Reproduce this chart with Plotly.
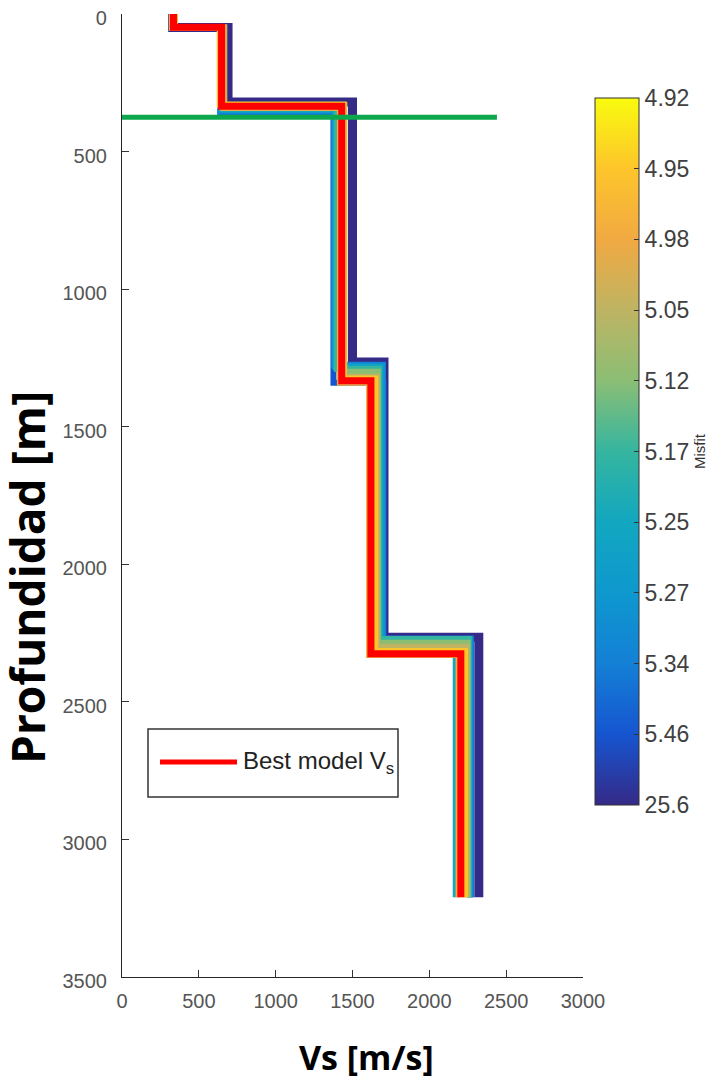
import plotly.graph_objects as go

# ---------------- data ----------------
misfit_labels = ["4.92", "4.95", "4.98", "5.05", "5.12", "5.17", "5.25", "5.27", "5.34", "5.46", "25.6"]

# velocity of each of the 5 layers, per model (rank 0 = best model)
vs_models = [
    [335, 648, 1430, 1620, 2205],   # 4.92 best
    [345, 636, 1442, 1648, 2232],   # 4.95
    [325, 660, 1418, 1608, 2190],   # 4.98
    [340, 666, 1447, 1660, 2242],   # 5.05
    [330, 655, 1440, 1665, 2250],   # 5.12
    [330, 650, 1400, 1672, 2256],   # 5.17
    [330, 650, 1392, 1680, 2172],   # 5.25
    [330, 645, 1386, 1690, 2262],   # 5.27
    [330, 640, 1380, 1698, 2270],   # 5.34
    [330, 640, 1376, 1702, 2272],   # 5.46
    [330, 690, 1500, 1705, 2322],   # 25.6
]
# interface depths (m) below layers 1-4, per model
interfaces_models = [
    [48, 335, 1333, 2325],
    [48, 330, 1325, 2315],
    [50, 342, 1340, 2330],
    [48, 330, 1318, 2300],
    [48, 330, 1300, 2285],
    [48, 340, 1290, 2272],
    [48, 345, 1285, 2280],
    [48, 350, 1280, 2275],
    [48, 355, 1275, 2270],
    [48, 358, 1340, 2280],
    [49, 320, 1265, 2265],
]
bottom_depth = 3210

green_vs = [0, 2440]
green_depth = [375, 375]

x_ticks = [0, 500, 1000, 1500, 2000, 2500, 3000]
y_ticks = [0, 500, 1000, 1500, 2000, 2500, 3000, 3500]

# parula-like colours at each colourbar tick (bottom -> top)
cb_colors = ["#352A87", "#1655D0", "#1480D6", "#0E98CE", "#12A7C0", "#35B59F",
             "#8BBE75", "#BEB463", "#F1A942", "#FDC52B", "#F9FB0E"]

# ---------------- figure ----------------
n = len(vs_models)
colorscale = [[i / (n - 1), c] for i, c in enumerate(cb_colors)]

fig = go.Figure()

def profile(vs, itf):
    xs, ys = [], []
    tops = [0] + itf
    bots = itf + [bottom_depth]
    for v, t, b in zip(vs, tops, bots):
        xs += [v, v]
        ys += [t, b]
    return xs, ys

# draw worst first, best last
for rank in range(n - 1, -1, -1):
    xs, ys = profile(vs_models[rank], interfaces_models[rank])
    pos = (n - 1 - rank)
    col = "#FF0000" if rank == 0 else cb_colors[pos]
    width = 7 if rank == 0 else (9 if rank == n - 1 else 6)
    fig.add_trace(go.Scatter(
        x=xs, y=ys, mode="lines",
        line=dict(color=col, width=width),
        showlegend=False, hoverinfo="skip",
        name="Best model Vs" if rank == 0 else "Misfit " + misfit_labels[rank],
    ))

fig.add_trace(go.Scatter(x=green_vs, y=green_depth, mode="lines",
                         line=dict(color="#0DA84E", width=5),
                         showlegend=False, hoverinfo="skip"))

# colourbar carrier
fig.add_trace(go.Scatter(
    x=[None], y=[None], mode="markers", showlegend=False,
    marker=dict(color=[0], colorscale=colorscale, cmin=0, cmax=n - 1, showscale=True,
                colorbar=dict(
                    x=(595 - 122) / 461, xanchor="left", xpad=0,
                    y=1 - (451.5 - 14) / 963, yanchor="middle", ypad=0,
                    len=707 / 963, lenmode="fraction", thickness=44,
                    outlinecolor="#333333", outlinewidth=1,
                    tickvals=list(range(n)), ticktext=misfit_labels[::-1],
                    ticks="inside", ticklen=5, tickcolor="#333333",
                    tickfont=dict(family="Liberation Sans, Arial", size=23, color="#404040"),
                    title=dict(text="Misfit", side="right",
                               font=dict(family="Liberation Sans, Arial", size=15, color="#333333")),
                )),
))

axis_font = dict(family="Liberation Sans, Arial", size=20, color="#555555")
fig.update_xaxes(range=[0, 3000], tickvals=x_ticks, ticks="inside", ticklen=7,
                 tickcolor="#333333", showline=True, linecolor="#262626", linewidth=1.2,
                 showgrid=False, zeroline=False, tickfont=axis_font, ticklabelstandoff=6,
                 automargin=False, ticklabeloverflow="allow")
fig.update_yaxes(range=[3500, 0], tickvals=y_ticks, ticks="inside", ticklen=7,
                 tickcolor="#333333", showline=True, linecolor="#262626", linewidth=1.2,
                 showgrid=False, zeroline=False, tickfont=axis_font, ticklabelstandoff=10,
                 ticklabelshift=-4,
                 automargin=False, ticklabeloverflow="allow")

# the page body adds an 8 px offset; positions below are in screen pixels
W, H, L, T = 461, 963, 122, 14
px = lambda x: (x - L) / W
py = lambda y: 1 - (y - T) / H

# legend box (drawn manually to match the reference layout)
fig.add_shape(type="rect", xref="paper", yref="paper", x0=px(148), x1=px(398), y0=py(797), y1=py(729),
              line=dict(color="#333333", width=1.5), fillcolor="white", layer="above")
fig.add_shape(type="line", xref="paper", yref="paper", x0=px(160), x1=px(237), y0=py(762), y1=py(762),
              line=dict(color="#FF0000", width=5), layer="above")
fig.add_annotation(xref="paper", yref="paper", x=px(241), y=py(762), xanchor="left", yanchor="middle",
                   text="Best model V<sub>s</sub>", showarrow=False,
                   font=dict(family="Liberation Sans, Arial", size=24, color="#222222"))

# axis titles
fig.add_annotation(xref="paper", yref="paper", x=px(366), y=py(1057), xanchor="center", yanchor="middle",
                   text="<b>Vs [m/s]</b>", showarrow=False,
                   font=dict(family="Open Sans", size=34, color="#000000"))
fig.add_annotation(xref="paper", yref="paper", x=px(27), y=py(578), xanchor="center", yanchor="middle",
                   text="<b>Profundidad [m]</b>", showarrow=False, textangle=-90,
                   font=dict(family="Open Sans", size=46, color="#000000"))

OFF = 8
fig.update_layout(width=728 - OFF, height=1080 - OFF,
                  margin=dict(l=L - OFF, r=728 - (L + W), t=T - OFF, b=1080 - (T + H), autoexpand=False),
                  plot_bgcolor="white", paper_bgcolor="white")

fig.write_html("out.html")
